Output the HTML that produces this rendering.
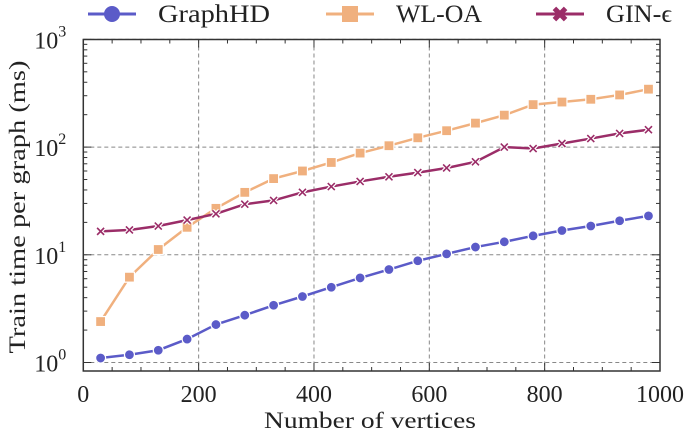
<!DOCTYPE html>
<html><head><meta charset="utf-8"><style>
body{margin:0;background:#fff}
svg{display:block;font-family:"Liberation Serif",serif}
</style></head><body>
<svg id="c" width="685" height="434"></svg>
<script>
const xs=[30,80,130,180,230,280,330,380,430,480,530,580,630,680,730,780,830,880,930,980];
const graphhd=[1.1,1.18,1.3,1.65,2.25,2.75,3.4,4.1,5.0,6.1,7.3,8.8,10.2,11.8,13.2,15,16.8,18.5,20.7,23];
const wloa=[2.4,6.2,11.2,18,27,38,51,60,72,88,103,122,142,167,198,248,262,278,305,345];
const gin=[16.5,17,18.5,21,24,29.5,32,38,43,48,53,58,64,73,100,97,108,120,134,145];
const xTicks=[0,200,400,600,800,1000];
const yExp=[0,1,2,3];
const NS='http://www.w3.org/2000/svg',svg=document.getElementById('c');
const L=83.3,R=660,T=39.5,B=371,Y0=362.5,DEC=107.7;
const X=v=>L+(R-L)*v/1000;
const Y=v=>Y0-DEC*Math.log10(v);
function el(t,a,p){const e=document.createElementNS(NS,t);for(const k in a)e.setAttribute(k,a[k]);(p||svg).appendChild(e);return e;}
xTicks.slice(1,-1).forEach(t=>{const g=el('line',{x1:X(t),x2:X(t),y1:T,y2:B,stroke:'#888','stroke-dasharray':'4,3','stroke-width':1});
});
yExp.forEach(e=>{const g=el('line',{x1:L,x2:R,y1:Y(Math.pow(10,e)),y2:Y(Math.pow(10,e)),stroke:'#888','stroke-dasharray':'4,3','stroke-width':1});
});
for(let e=0;e<3;e++)for(let m=2;m<10;m++){const y=Y(m*Math.pow(10,e));el('line',{x1:L,x2:L+4,y1:y,y2:y,stroke:'#333'});el('line',{x1:R,x2:R-4,y1:y,y2:y,stroke:'#333'});}
for(let v=50;v<1000;v+=50){if(v%200==0)continue;el('line',{x1:X(v),x2:X(v),y1:B,y2:B-4,stroke:'#333'});el('line',{x1:X(v),x2:X(v),y1:T,y2:T+4,stroke:'#333'});}
xTicks.forEach(t=>{el('line',{x1:X(t),x2:X(t),y1:B,y2:B-8,stroke:'#333'});el('line',{x1:X(t),x2:X(t),y1:T,y2:T+8,stroke:'#333'});
const tx=el('text',{x:X(t),y:B+31,'font-size':24,'text-anchor':'middle',fill:'#222'});tx.textContent=t;
});
yExp.forEach(e=>{const y=Y(Math.pow(10,e));el('line',{x1:L,x2:L+8,y1:y,y2:y,stroke:'#333'});el('line',{x1:R,x2:R-8,y1:y,y2:y,stroke:'#333'});
const tx=el('text',{x:L-25,y:y+9,'font-size':24,'text-anchor':'end',fill:'#222'});tx.textContent='10';

const s=el('text',{x:L-25,y:y-3,'font-size':16,fill:'#222'});s.textContent=e;});
const fr=el('rect',{x:L,y:T,width:R-L,height:B-T,fill:'none',stroke:'#333','stroke-width':1.5});

function series(vals,col,mk,name){const g=el('g',{});
el('polyline',{points:xs.map((x,i)=>X(x)+','+Y(vals[i])).join(' '),fill:'none',stroke:col,'stroke-width':2.5},g);
xs.forEach((x,i)=>marker(g,X(x),Y(vals[i]),col,mk,false));}
function marker(g,x,y,col,mk,big){const s=big?1.6:1;
if(mk=='o')el('circle',{cx:x,cy:y,r:5*s,fill:col,stroke:'#fff','stroke-width':big?0:1.2},g);
else if(mk=='s')el('rect',{x:x-5*s,y:y-5*s,width:10*s,height:10*s,fill:col,stroke:'#fff','stroke-width':big?0:1.2},g);
else {const d=3.5*s;el('path',{d:`M${x-d},${y-d}L${x+d},${y+d}M${x-d},${y+d}L${x+d},${y-d}`,stroke:'#fff','stroke-width':big?0:4},g);
el('path',{d:`M${x-d},${y-d}L${x+d},${y+d}M${x-d},${y+d}L${x+d},${y-d}`,stroke:col,'stroke-width':big?5:1.6},g);}}
series(wloa,'#f0b07e','s','series-wl-oa');
series(gin,'#9b2d68','x','series-gin');
series(graphhd,'#5b5bc8','o','series-graphhd');
[[112,'#5b5bc8','o','GraphHD',112],[350,'#f0b07e','s','WL-OA',86],[560,'#9b2d68','x','GIN-ϵ',66]].forEach(([x,c,m,t,w])=>{
const g=el('g',{});
el('line',{x1:x-24,x2:x+24,y1:14,y2:14,stroke:c,'stroke-width':3},g);marker(g,x,14,c,m,true);
const tx=el('text',{x:x+46,y:22,'font-size':25,fill:'#222',textLength:w,lengthAdjust:'spacingAndGlyphs'},g);tx.textContent=t;});
const xt=el('text',{x:370,y:428,'font-size':23,'text-anchor':'middle',fill:'#222',textLength:212,lengthAdjust:'spacingAndGlyphs'});xt.textContent='Number of vertices';

const yt=el('text',{x:0,y:0,'font-size':23,'text-anchor':'middle',fill:'#222',textLength:293,lengthAdjust:'spacingAndGlyphs',transform:'translate(25,207) rotate(-90)'});yt.textContent='Train time per graph (ms)';

</script></body></html>
